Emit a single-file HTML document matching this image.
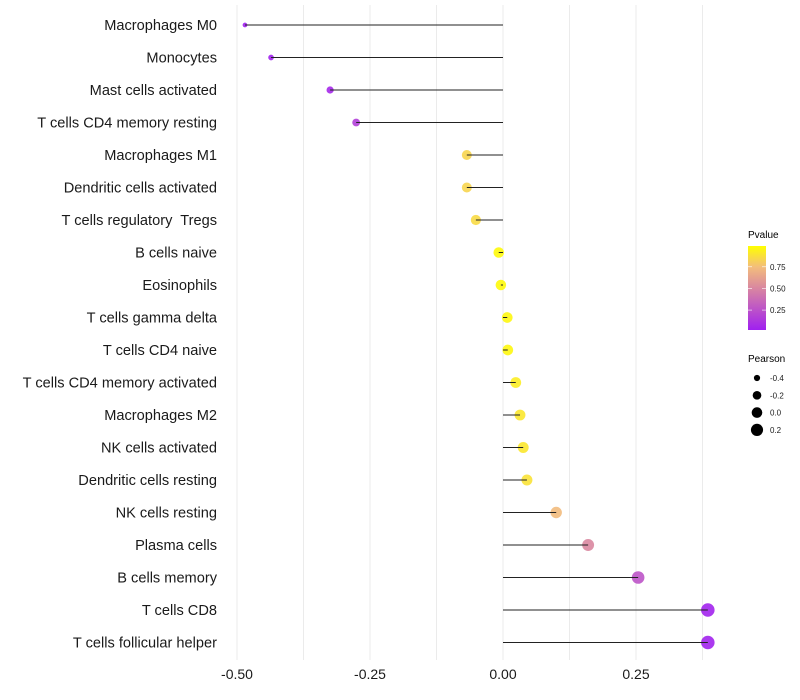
<!DOCTYPE html>
<html><head><meta charset="utf-8"><style>
body{margin:0;background:#fff}
svg{display:block;font-family:"Liberation Sans",sans-serif}
</style></head><body>
<svg id="chart" width="800" height="700">
<defs><linearGradient id="pg" x1="0" y1="1" x2="0" y2="0">
<stop offset="0" stop-color="#a020f0"/><stop offset="0.5" stop-color="#d987a0"/><stop offset="0.75" stop-color="#f3bd7c"/><stop offset="1" stop-color="#ffff00"/>
</linearGradient></defs>
<g id="grid"></g>
<g id="marks"></g>
<g id="ylab"></g>
<g id="xlab"></g>
<g>
<text x="748" y="238" font-size="10">Pvalue</text>
<rect x="748" y="246" width="18" height="84" fill="url(#pg)"/>
<g id="cbt"></g>
</g>
<g id="sizeleg">
<text x="748" y="362" font-size="10">Pearson</text>
</g>
</svg>
<script>
const categories=["Macrophages M0","Monocytes","Mast cells activated","T cells CD4 memory resting","Macrophages M1","Dendritic cells activated","T cells regulatory  Tregs","B cells naive","Eosinophils","T cells gamma delta","T cells CD4 naive","T cells CD4 memory activated","Macrophages M2","NK cells activated","Dendritic cells resting","NK cells resting","Plasma cells","B cells memory","T cells CD8","T cells follicular helper"];
const pearson=[-0.485,-0.436,-0.325,-0.276,-0.068,-0.068,-0.051,-0.008,-0.004,0.008,0.009,0.024,0.032,0.038,0.045,0.1,0.16,0.254,0.385,0.385];
const pvalue=[0.0,0.01,0.04,0.15,0.84,0.84,0.86,0.98,0.98,0.97,0.97,0.93,0.91,0.91,0.89,0.74,0.5,0.25,0.02,0.02];
const xTicks=[-0.5,-0.25,0,0.25];
const xTickLabels=["-0.50","-0.25","0.00","0.25"];
const cbTicks=[0.25,0.5,0.75];
const cbTickLabels=["0.25","0.50","0.75"];
const sizeTicks=[-0.4,-0.2,0.0,0.2];
const sizeTickLabels=["-0.4","-0.2","0.0","0.2"];
const NS="http://www.w3.org/2000/svg";
const xs=v=>503+v*532;
const ys=i=>25+i*32.5;
const rs=v=>Math.sqrt(Math.max(1.5,28+46*v));
const cbY=p=>330-(p-0.02)/0.97*84;
function hex(h){return [1,3,5].map(k=>parseInt(h.substr(k,2),16));}
const stops=[[0,hex("#a020f0")],[0.5,hex("#d987a0")],[0.75,hex("#f3bd7c")],[1,hex("#ffff00")]];
function col(p){let k=0;while(k<stops.length-2&&p>stops[k+1][0])k++;const a=stops[k],b=stops[k+1];const t=Math.min(1,Math.max(0,(p-a[0])/(b[0]-a[0])));return "rgb("+a[1].map((c,j)=>Math.round(c+(b[1][j]-c)*t)).join(",")+")";}
function el(t,at,par,txt){const e=document.createElementNS(NS,t);for(const k in at)e.setAttribute(k,at[k]);if(txt!==undefined)e.textContent=txt;document.getElementById(par).appendChild(e);return e;}
for(let v=-0.5;v<=0.4;v+=0.125){
 const g=el("line",{x1:xs(v),x2:xs(v),y1:5,y2:660,stroke:"#ebebeb","stroke-width":1},"grid");
 
 
}
categories.forEach((c,i)=>{
 const t=el("text",{x:217,y:ys(i)+5,"font-size":14.6,"text-anchor":"end",fill:"#1a1a1a",style:"white-space:pre"},"ylab",c);
 
 
 const pt=el("circle",{cx:xs(pearson[i]),cy:ys(i),r:rs(pearson[i]),fill:col(pvalue[i]),"fill-opacity":0.9},"marks");
 
 
 const l=el("line",{x1:xs(0),x2:xs(pearson[i]),y1:ys(i),y2:ys(i),stroke:"#222","stroke-width":1},"marks");
 
 
});
xTicks.forEach((v,i)=>{
 const t=el("text",{x:xs(v),y:679,"font-size":14,"text-anchor":"middle",fill:"#1a1a1a"},"xlab",xTickLabels[i]);
 
 
});
cbTicks.forEach((v,i)=>{
 const t=el("text",{x:770,y:cbY(v)+3,"font-size":8,fill:"#1a1a1a"},"cbt",cbTickLabels[i]);
 
 
 el("line",{x1:748,x2:752,y1:cbY(v),y2:cbY(v),stroke:"#fff","stroke-width":0.6},"cbt");
 el("line",{x1:762,x2:766,y1:cbY(v),y2:cbY(v),stroke:"#fff","stroke-width":0.6},"cbt");
});
sizeTicks.forEach((v,i)=>{
 const y=378+i*17.3;
 const c=el("circle",{cx:757,cy:y,r:rs(v),fill:"#000"},"sizeleg");
 
 
 const t=el("text",{x:770,y:y+3,"font-size":8,fill:"#1a1a1a"},"sizeleg",sizeTickLabels[i]);
 
 
});
</script>
</body></html>
